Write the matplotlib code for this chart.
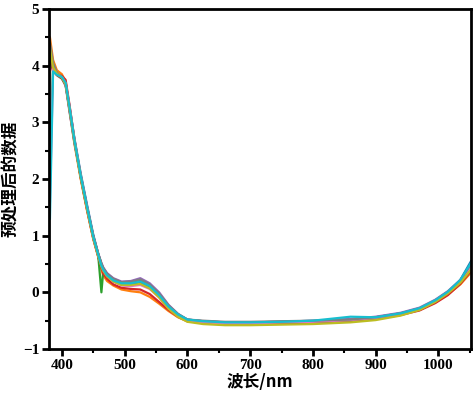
import numpy as np
import matplotlib
matplotlib.use("Agg")
import matplotlib.pyplot as plt
from matplotlib.ticker import MultipleLocator

# wavelength knots (nm)
wl = [381, 386, 392, 400, 406, 412, 420, 430, 440, 450,
      458, 463, 466, 472, 482, 495, 510, 525, 540, 555,
      570, 585, 600, 625, 660, 700, 750, 800, 860, 900,
      940, 970, 995, 1015, 1035, 1052]

# preprocessed spectra (estimated)
s_blue = [4.30, 3.95, 3.85, 3.78, 3.70, 3.30, 2.72, 2.10, 1.55, 1.02,
          0.68, 0.50, 0.42, 0.32, 0.22, 0.17, 0.17, 0.20, 0.12, -0.04,
          -0.24, -0.39, -0.48, -0.51, -0.53, -0.53, -0.52, -0.51, -0.48, -0.44,
          -0.37, -0.30, -0.17, -0.03, 0.22, 0.55]
s_orange = [4.50, 4.10, 3.92, 3.85, 3.72, 3.22, 2.62, 2.00, 1.45, 0.94,
            0.62, 0.40, 0.30, 0.20, 0.12, 0.05, 0.02, 0.00, -0.08, -0.20,
            -0.33, -0.44, -0.51, -0.53, -0.55, -0.55, -0.54, -0.53, -0.50, -0.46,
            -0.39, -0.31, -0.18, -0.04, 0.14, 0.35]
s_green = [2.40, 3.98, 3.86, 3.79, 3.66, 3.24, 2.66, 2.04, 1.49, 0.97,
           0.64, 0.00, 0.38, 0.29, 0.20, 0.14, 0.14, 0.17, 0.09, -0.07,
           -0.27, -0.41, -0.50, -0.53, -0.55, -0.55, -0.54, -0.53, -0.50, -0.46,
           -0.39, -0.30, -0.16, -0.01, 0.19, 0.42]
s_red = [4.10, 3.90, 3.84, 3.82, 3.75, 3.32, 2.70, 2.02, 1.46, 0.95,
         0.63, 0.44, 0.33, 0.24, 0.14, 0.08, 0.06, 0.05, -0.03, -0.17,
         -0.31, -0.43, -0.51, -0.54, -0.56, -0.56, -0.55, -0.54, -0.51, -0.47,
         -0.40, -0.32, -0.19, -0.05, 0.15, 0.38]
s_purple = [4.25, 3.98, 3.86, 3.78, 3.64, 3.20, 2.64, 2.06, 1.52, 1.00,
            0.68, 0.52, 0.44, 0.34, 0.25, 0.19, 0.20, 0.25, 0.16, 0.00,
            -0.22, -0.38, -0.48, -0.51, -0.53, -0.53, -0.52, -0.50, -0.47, -0.43,
            -0.36, -0.27, -0.13, 0.02, 0.22, 0.48]
s_brown = [4.20, 3.92, 3.83, 3.77, 3.66, 3.26, 2.69, 2.07, 1.51, 0.99,
           0.67, 0.49, 0.41, 0.31, 0.22, 0.16, 0.16, 0.19, 0.11, -0.05,
           -0.25, -0.40, -0.49, -0.52, -0.54, -0.55, -0.54, -0.53, -0.50, -0.46,
           -0.39, -0.30, -0.16, -0.01, 0.18, 0.40]
s_pink = [1.60, 3.96, 3.85, 3.80, 3.69, 3.28, 2.70, 2.06, 1.50, 0.97,
          0.65, 0.47, 0.39, 0.29, 0.19, 0.12, 0.11, 0.13, 0.06, -0.09,
          -0.28, -0.42, -0.50, -0.53, -0.55, -0.55, -0.53, -0.52, -0.49, -0.45,
          -0.38, -0.29, -0.15, 0.00, 0.20, 0.44]
s_gray = [4.40, 4.05, 3.88, 3.80, 3.67, 3.23, 2.66, 2.04, 1.50, 0.99,
          0.68, 0.51, 0.43, 0.33, 0.24, 0.18, 0.19, 0.23, 0.14, -0.02,
          -0.23, -0.38, -0.48, -0.50, -0.52, -0.52, -0.51, -0.50, -0.48, -0.44,
          -0.37, -0.28, -0.14, 0.01, 0.21, 0.50]
s_olive = [4.30, 3.97, 3.86, 3.79, 3.67, 3.25, 2.67, 2.03, 1.48, 0.96,
           0.64, 0.46, 0.38, 0.28, 0.19, 0.13, 0.13, 0.15, 0.07, -0.09,
           -0.29, -0.43, -0.52, -0.56, -0.58, -0.58, -0.57, -0.56, -0.53, -0.49,
           -0.41, -0.31, -0.17, -0.02, 0.17, 0.40]
s_cyan = [1.30, 3.90, 3.84, 3.80, 3.70, 3.28, 2.69, 2.06, 1.51, 0.98,
          0.66, 0.47, 0.40, 0.30, 0.21, 0.16, 0.16, 0.19, 0.11, -0.05,
          -0.25, -0.39, -0.48, -0.51, -0.53, -0.53, -0.52, -0.50, -0.43, -0.44,
          -0.37, -0.28, -0.14, 0.01, 0.22, 0.52]

spectra = [s_blue, s_orange, s_green, s_red, s_purple,
           s_brown, s_pink, s_gray, s_olive, s_cyan]

fig = plt.figure(figsize=(4.73, 3.99), dpi=100)
ax = fig.add_axes([0.1036, 0.1253, 0.8922, 0.8521])

for s in spectra:
    ax.plot(wl, s, lw=1.6)

ax.set_xlim(379.5, 1052)
ax.set_ylim(-1, 5)
ax.xaxis.set_major_locator(MultipleLocator(100))
ax.xaxis.set_minor_locator(MultipleLocator(50))
ax.yaxis.set_major_locator(MultipleLocator(1))
ax.yaxis.set_minor_locator(MultipleLocator(0.5))

for sp in ax.spines.values():
    sp.set_linewidth(2)
ax.tick_params(which="major", direction="out", length=5, width=2, pad=2)
ax.tick_params(which="minor", direction="out", length=3, width=1.5)
for lab in ax.get_xticklabels() + ax.get_yticklabels():
    lab.set_family("Liberation Serif")
    lab.set_fontweight("bold")
    lab.set_fontsize(11)

ax.set_xlabel("波长/nm", family=["Noto Sans CJK SC", "DejaVu Sans"],
              fontweight="bold", fontsize=12, labelpad=1)
ax.set_ylabel("预处理后的数据", family=["Noto Sans CJK SC", "DejaVu Sans"],
              fontweight="bold", fontsize=12, labelpad=2)

fig.savefig("out.png", dpi=100)
